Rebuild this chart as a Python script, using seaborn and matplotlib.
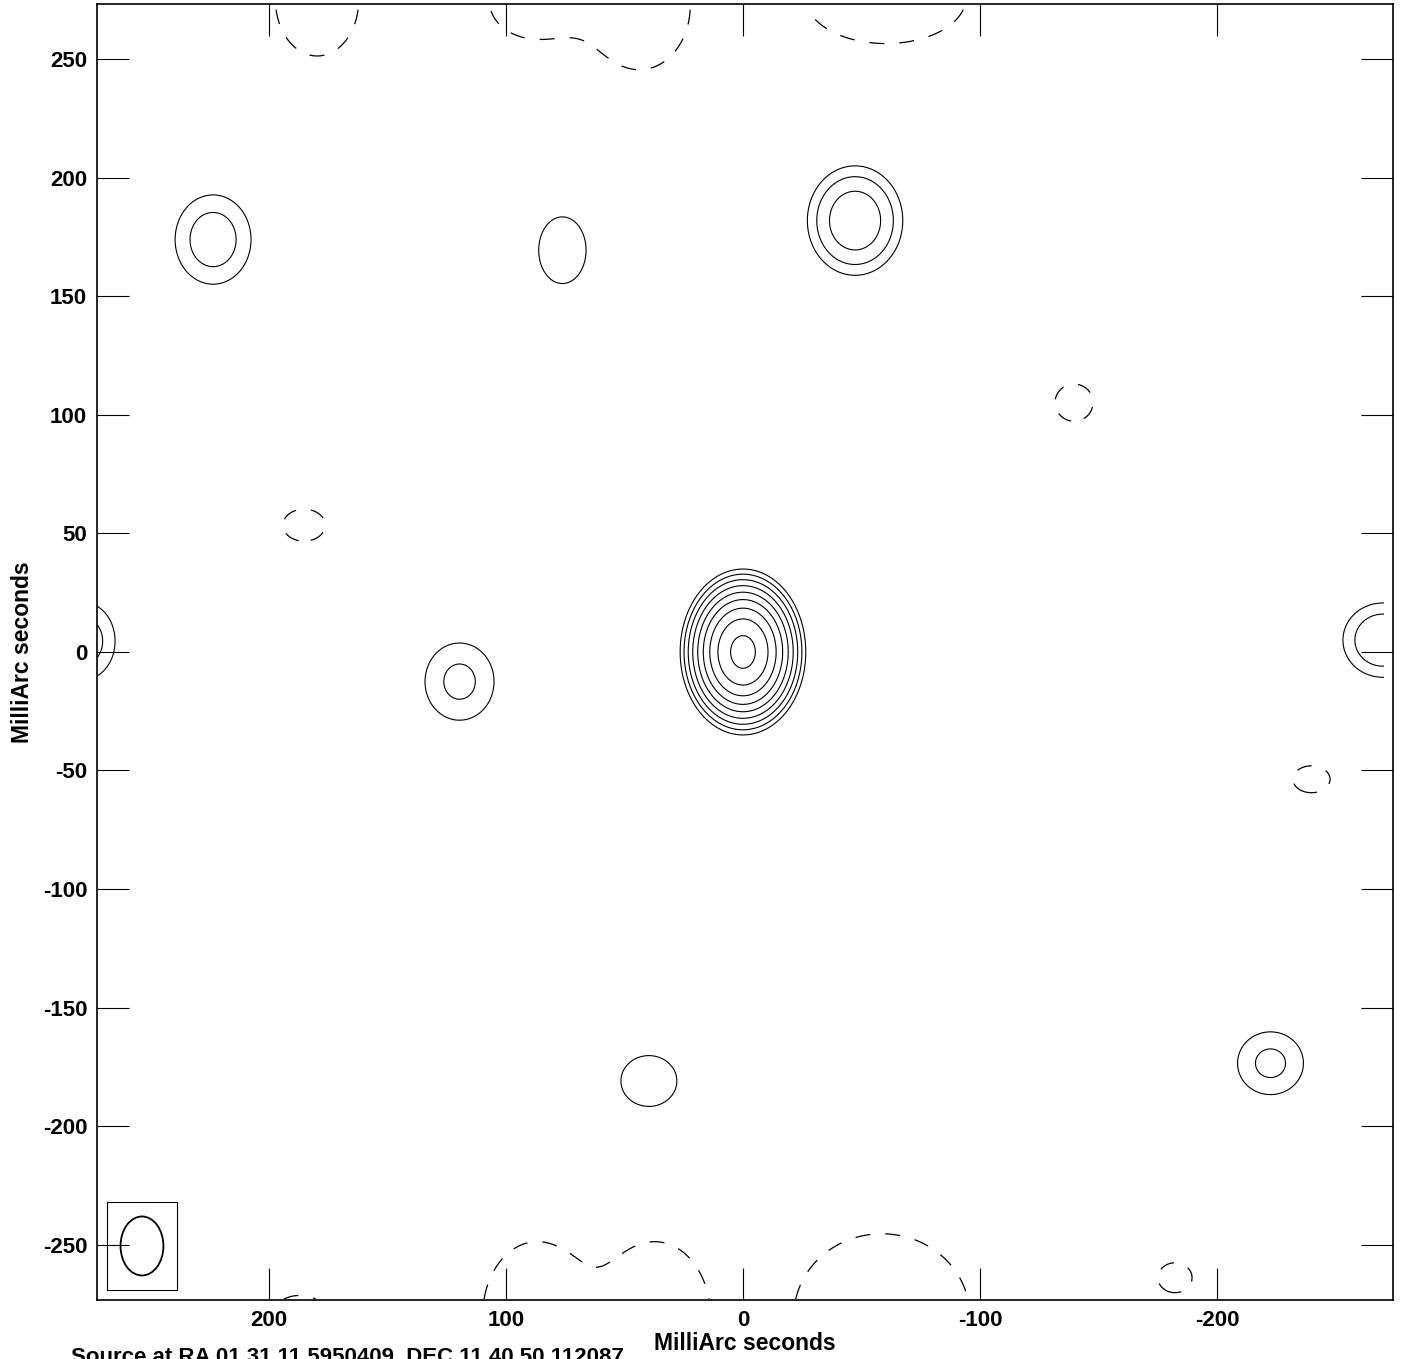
import numpy as np
import matplotlib
matplotlib.use('Agg')
import matplotlib.pyplot as plt
from matplotlib.patches import Ellipse, Rectangle
import seaborn as sns

# clean components (x mas, y mas, peak in units of lowest contour, sigma x, sigma y)
comp_x = [0.0, 223.6, 76.2, -47.3, 119.6, 39.7, -222.6, -270.0, 278.3,
          -139.7, 185.2, -239.9,
          179.7, 87.8, 43.5, -60.3,
          187.0, 87.0, 37.0, -58.6, -182.3]
comp_y = [0.0, 174.0, 169.5, 182.0, -12.5, -181.0, -173.5, 5.0, 4.6,
          105.2, 53.5, -53.7,
          275.0, 275.0, 272.0, 276.0,
          -285.0, -280.0, -280.0, -280.0, -264.0]
comp_peak = [320.0, 3.0, 1.6, 7.0, 2.4, 1.5, 2.4, 3.9, 3.0,
             -1.5, -1.5, -1.5,
             -2.0, -2.0, -2.5, -2.0,
             -2.0, -3.0, -3.0, -3.0, -1.5]
comp_sx = [7.8, 10.8, 10.3, 10.2, 11.0, 13.1, 10.5, 10.2, 9.0,
           8.9, 9.9, 8.7,
           14.9, 16.4, 15.4, 28.7,
           12.3, 15.4, 15.4, 25.0, 8.0]
comp_sy = [10.3, 12.7, 14.5, 11.7, 12.3, 11.9, 10.0, 9.5, 11.0,
           8.7, 7.5, 6.3,
           20.0, 13.7, 19.4, 16.4,
           11.5, 21.0, 21.0, 23.3, 7.0]

levels_pos = [1, 2, 4, 8, 16, 32, 64, 128, 256]
levels_neg = [-1]

xticks = [200, 100, 0, -100, -200]
yticks = [-250, -200, -150, -100, -50, 0, 50, 100, 150, 200, 250]

beam_x, beam_y = 253.6, -250.6
beam_w, beam_h = 18.1, 24.9

source_text = 'Source at RA 01 31 11.5950409, DEC 11 40 50.112087'

sns.set_style('ticks')
plt.rcParams['font.family'] = ['Liberation Sans', 'DejaVu Sans']
plt.rcParams['font.weight'] = 'bold'
plt.rcParams['axes.labelweight'] = 'bold'
plt.rcParams['axes.unicode_minus'] = False
for k in ['text.color', 'axes.labelcolor', 'xtick.color', 'ytick.color']:
    plt.rcParams[k] = 'black'

gx = np.linspace(272.5, -270.5, 1087)
gy = np.linspace(-273.0, 271.0, 1089)
X, Y = np.meshgrid(gx, gy)
Z = np.zeros_like(X)
for x0, y0, p, sx, sy in zip(comp_x, comp_y, comp_peak, comp_sx, comp_sy):
    Z += p * np.exp(-((X - x0) ** 2 / (2 * sx ** 2) + (Y - y0) ** 2 / (2 * sy ** 2)))

fig = plt.figure(figsize=(14.01, 13.59), dpi=100)
ax = fig.add_axes([0.0692, 0.0434, 0.9251, 0.9537])

ax.contour(X, Y, Z, levels=levels_pos, colors='black', linewidths=0.8)
neg = ax.contour(X, Y, Z, levels=levels_neg, colors='black', linewidths=0.9,
                 linestyles='dashed')
neg.set_linestyle((0, (12, 12)))

# beam
ax.add_patch(Rectangle((238.8, -269.2), 29.6, 37.1, fill=False, ec='black', lw=0.8))
ax.add_patch(Ellipse((beam_x, beam_y), beam_w, beam_h, fill=False, ec='black', lw=1.3))

ax.set_xlim(272.6, -274.3)
ax.set_ylim(-273.4, 273.4)
ax.set_xticks(xticks)
ax.set_yticks(yticks)
ax.tick_params(direction='in', length=23, width=0.8, top=True, right=True,
               labelsize=16, pad=7)
for s in ax.spines.values():
    s.set_linewidth(1.2)
    s.set_color('black')

ax.set_xlabel('MilliArc seconds', fontsize=16.5, labelpad=1)
ax.set_ylabel('MilliArc seconds', fontsize=16.5, labelpad=6)

fig.text(0.051, 0.0095, source_text, fontsize=16, fontweight='bold', va='top', ha='left')

plt.savefig('out.png', dpi=100)
